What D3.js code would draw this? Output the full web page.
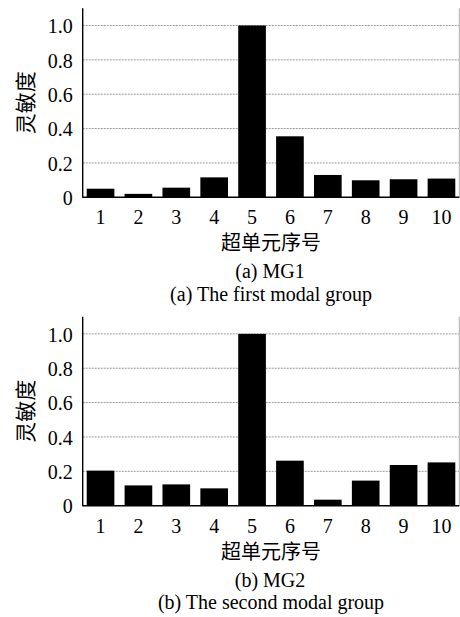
<!DOCTYPE html>
<html>
<head>
<meta charset="utf-8">
<script src="https://cdn.jsdelivr.net/npm/d3@7"></script>
<style>
  html, body { margin: 0; padding: 0; background: #fff; }
  svg { display: block; }
  .serif { font-family: "Liberation Serif", "Times New Roman", serif; }
  .cjk { font-family: "Noto Sans CJK SC", sans-serif; }
</style>
</head>
<body>
<svg id="chart" width="460" height="617"></svg>
<script>
// Super-unit indices
const categories = ["1", "2", "3", "4", "5", "6", "7", "8", "9", "10"];
// Sensitivity of each super-unit, first modal group (MG1)
const mg1Values = [0.05, 0.02, 0.056, 0.116, 1.0, 0.355, 0.13, 0.099, 0.105, 0.109];
// Sensitivity of each super-unit, second modal group (MG2)
const mg2Values = [0.204, 0.118, 0.124, 0.101, 1.0, 0.262, 0.035, 0.146, 0.237, 0.252];
// Y-axis ticks
const yTicks = [0, 0.2, 0.4, 0.6, 0.8, 1.0];
const yTickLabels = ["0", "0.2", "0.4", "0.6", "0.8", "1.0"];
// Text
const yTitle = "灵敏度";
const xTitle = "超单元序号";
const panels = [
  { values: mg1Values, caption1: "(a) MG1", caption2: "(a) The first modal group" },
  { values: mg2Values, caption1: "(b) MG2", caption2: "(b) The second modal group" }
];

const svg = d3.select("#chart");

const axisLeftX = 82.7;
const axisRightX = 459.3;
const panelTop = [8.3, 316.7];
const panelBottom = [197.3, 505.7];

const x = d3.scaleBand()
  .domain(categories)
  .range([81.6, 460.4])
  .paddingInner(0.27)
  .paddingOuter(0.135);

panels.forEach((p, i) => {
  const g = svg.append("g");
  const y = d3.scaleLinear().domain([0, 1.1]).range([panelBottom[i], panelTop[i]]);

  // dotted grid lines
  g.selectAll("line.grid")
    .data(yTicks.filter(t => t > 0))
    .join("line")
    .attr("class", "grid")
    .attr("x1", axisLeftX).attr("x2", axisRightX)
    .attr("y1", d => y(d)).attr("y2", d => y(d))
    .attr("stroke", "#9a9a9a")
    .attr("stroke-width", 1)
    .attr("stroke-dasharray", "2,1");

  // bars
  g.selectAll("rect.bar")
    .data(p.values)
    .join("rect")
    .attr("class", "bar")
    .attr("x", (d, j) => x(categories[j]))
    .attr("width", x.bandwidth())
    .attr("y", d => y(d))
    .attr("height", d => y(0) - y(d))
    .attr("fill", "#000");

  // right frame line
  g.append("line")
    .attr("x1", axisRightX).attr("x2", axisRightX)
    .attr("y1", y(1.1)).attr("y2", y(0))
    .attr("stroke", "#b0b0b0").attr("stroke-width", 1);

  // left axis
  const yAxis = d3.axisLeft(y)
    .tickValues(yTicks)
    .tickFormat((d, k) => yTickLabels[k])
    .tickSize(0)
    .tickPadding(10);
  const ya = g.append("g").attr("transform", `translate(${axisLeftX},0)`).call(yAxis);
  ya.attr("font-family", null).attr("font-size", null);
  ya.select(".domain").remove();
  ya.selectAll("text")
    .attr("class", "serif")
    .style("font-size", "20px")
    .attr("fill", "#000")
    .attr("dy", "0.36em");
  g.append("line")
    .attr("x1", axisLeftX).attr("x2", axisLeftX)
    .attr("y1", y(1.1)).attr("y2", y(0) + 0.5)
    .attr("stroke", "#000").attr("stroke-width", 1.4);

  // bottom axis
  const xAxis = d3.axisBottom(x).tickSize(0).tickPadding(13);
  const xa = g.append("g").attr("transform", `translate(0,${y(0)})`).call(xAxis);
  xa.attr("font-family", null).attr("font-size", null);
  xa.select(".domain").remove();
  xa.selectAll("text")
    .attr("class", "serif")
    .style("font-size", "20px")
    .attr("fill", "#000");
  g.append("line")
    .attr("x1", axisLeftX).attr("x2", axisRightX)
    .attr("y1", y(0)).attr("y2", y(0))
    .attr("stroke", "#000").attr("stroke-width", 1.4);

  const cx = (axisLeftX + axisRightX) / 2;
  const base = panelBottom[i];

  // y title
  g.append("text")
    .attr("class", "cjk")
    .attr("transform", `translate(24,${(panelTop[i] + panelBottom[i]) / 2}) rotate(-90)`)
    .attr("text-anchor", "middle")
    .attr("dominant-baseline", "central")
    .style("font-size", "21px")
    .attr("fill", "#000")
    .text(yTitle);

  // x title and captions
  g.append("text")
    .attr("class", "cjk")
    .attr("x", cx).attr("y", base + 53)
    .attr("text-anchor", "middle")
    .style("font-size", "20px")
    .attr("fill", "#000")
    .text(xTitle);
  g.append("text")
    .attr("class", "serif")
    .attr("x", cx - 1).attr("y", base + 81)
    .attr("text-anchor", "middle")
    .style("font-size", "20px")
    .attr("fill", "#000")
    .text(p.caption1);
  g.append("text")
    .attr("class", "serif")
    .attr("x", cx).attr("y", base + 103.5)
    .attr("text-anchor", "middle")
    .style("font-size", "20px")
    .attr("fill", "#000")
    .text(p.caption2);
});
</script>
</body>
</html>
